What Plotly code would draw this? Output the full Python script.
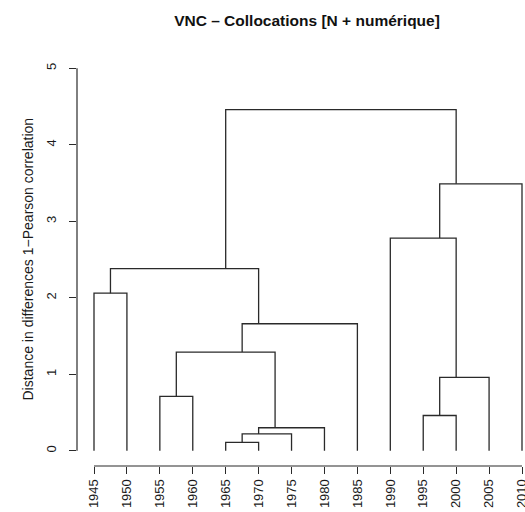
import plotly.graph_objects as go

# Leaves (periods) in chronological order
labels = ["1945", "1950", "1955", "1960", "1965", "1970", "1975",
          "1980", "1985", "1990", "1995", "2000", "2005", "2010"]

# Merge steps (R hclust convention: negative = leaf index, positive = earlier merge)
merge_left = [-5, 1, 2, -11, -3, 4, 5, 7, -1, 9, -10, 11, 10]
merge_right = [-6, -7, -8, -12, -4, -13, 3, -9, -2, 8, 6, -14, 12]
merge_height = [0.11, 0.22, 0.30, 0.46, 0.71, 0.96, 1.29, 1.66, 2.06, 2.38, 2.78, 3.49, 4.46]

y_ticks = [0, 1, 2, 3, 4, 5]

leaf_pos = list(range(1, len(labels) + 1))

members = {}
node_x = {}
node_h = {}


def info(ref):
    if ref < 0:
        i = -ref
        return [leaf_pos[i - 1]], leaf_pos[i - 1], 0.0
    return members[ref], node_x[ref], node_h[ref]


xs, ys = [], []
for k, (l, r, h) in enumerate(zip(merge_left, merge_right, merge_height), start=1):
    ml, xl, hl = info(l)
    mr, xr, hr = info(r)
    mem = ml + mr
    members[k] = mem
    node_x[k] = sum(mem) / len(mem)
    node_h[k] = h
    xs += [xl, xl, xr, xr, None]
    ys += [hl, h, h, hr, None]

font_family = "Liberation Sans, Arial, Helvetica, sans-serif"
line_col = "#2a2a2a"

W, H = 525, 512

fig = go.Figure()
fig.add_trace(go.Scatter(x=xs, y=ys, mode="lines",
                         line=dict(color=line_col, width=1.3),
                         hoverinfo="skip", showlegend=False))

# axis lines (R style: spanning first to last tick only)
fig.add_shape(type="line", xref="x", yref="paper", x0=leaf_pos[0], x1=leaf_pos[-1],
              y0=0, y1=0, line=dict(color=line_col, width=1.2))
fig.add_shape(type="line", xref="paper", yref="y", x0=0, x1=0,
              y0=y_ticks[0], y1=y_ticks[-1], line=dict(color=line_col, width=1.2))

fig.update_layout(
    width=W, height=H,
    margin=dict(l=77, r=0, t=53, b=46, autoexpand=False),
    paper_bgcolor="white", plot_bgcolor="white",
    font=dict(family=font_family, size=13, color="#1a1a1a"),
    title=dict(text="VNC – Collocations [N + numérique]",
               font=dict(family=font_family, size=15.5, color="#111", weight="bold"),
               x=307 / W, xref="container", xanchor="center",
               y=1 - 21 / H, yref="container", yanchor="middle", automargin=False),
    xaxis=dict(range=[1 - 17 / 32.92, 14 + 3 / 32.92], tickmode="array",
               tickvals=leaf_pos, ticktext=labels, tickangle=-90,
               ticks="outside", ticklen=7, tickwidth=1.2, tickcolor=line_col,
               showline=False, showgrid=False, zeroline=False, automargin=False,
               tickfont=dict(size=13), ticklabelstandoff=0,
               ticklabeloverflow="allow"),
    yaxis=dict(range=[-0.2, 5.2], tickmode="array", tickvals=y_ticks,
               ticktext=[str(v) for v in y_ticks], tickangle=-90,
               ticks="outside", ticklen=7, tickwidth=1.2, tickcolor=line_col,
               showline=False, showgrid=False, zeroline=False, automargin=False,
               tickfont=dict(size=13), ticklabelstandoff=8,
               ticklabeloverflow="allow"),
)

fig.add_annotation(text="Distance in differences 1−Pearson correlation",
                   xref="paper", yref="paper", x=(27 - 77) / 448, y=0.5,
                   textangle=-90, showarrow=False, xanchor="center", yanchor="middle",
                   font=dict(family=font_family, size=14, color="#1a1a1a"))

fig.write_html("out.html",
               config={"displayModeBar": False},
               post_script="document.body.style.margin='0';"
                           "document.body.style.overflow='hidden';")
